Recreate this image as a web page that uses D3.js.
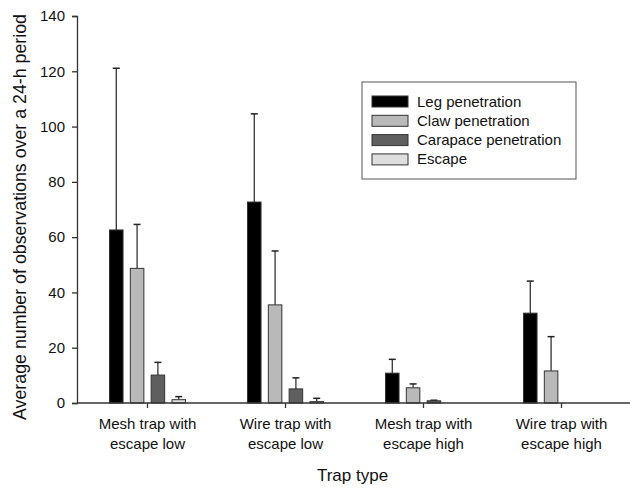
<!DOCTYPE html>
<html>
<head>
<meta charset="utf-8">
<script src="https://cdn.jsdelivr.net/npm/d3@7"></script>
<style>
  body { margin: 0; background: #fff; }
  svg { display: block; font-family: "Liberation Sans", Arial, sans-serif; }
</style>
</head>
<body>
<svg id="chart" width="630" height="488"></svg>
<script>
var categories = [
    ['Mesh trap with', 'escape low'],
    ['Wire trap with', 'escape low'],
    ['Mesh trap with', 'escape high'],
    ['Wire trap with', 'escape high']
];
var seriesNames = ['Leg penetration', 'Claw penetration', 'Carapace penetration', 'Escape'];
var seriesColors = ['#000000', '#b9b9b9', '#5f5f5f', '#dedede'];

// means and upper error (mean + SE) per series, one entry per category
var legMean = [62.6, 72.7, 10.8, 32.5];
var legErr = [121.1, 104.6, 15.8, 44.1];
var clawMean = [48.7, 35.5, 5.5, 11.6];
var clawErr = [64.6, 55.0, 6.9, 24.0];
var carapaceMean = [10.1, 5.1, 0.8, 0];
var carapaceErr = [14.7, 9.1, 1.0, 0];
var escapeMean = [1.2, 0.5, 0, 0];
var escapeErr = [2.3, 1.7, 0, 0];
var yTicks = [0, 20, 40, 60, 80, 100, 120, 140];

var means = [legMean, clawMean, carapaceMean, escapeMean];
var errs = [legErr, clawErr, carapaceErr, escapeErr];

var svg = d3.select('#chart');
var margin = {left: 77, right: 0, top: 16, bottom: 85};
var width = 630 - margin.left - margin.right;
var height = 488 - margin.top - margin.bottom;

var g = svg.append('g')
    .attr('transform', 'translate(' + margin.left + ',' + margin.top + ')');

var x = d3.scaleBand()
    .domain(d3.range(categories.length))
    .range([1.5, width + 0.5]);

var groupWidth = 76;
var xInner = d3.scaleBand()
    .domain(d3.range(seriesNames.length))
    .range([0, groupWidth])
    .paddingInner(0.35);

var y = d3.scaleLinear()
    .domain([0, 140])
    .range([height, 0]);

var axisColor = '#333';

// bars
var rows = [];
categories.forEach(function(c, ci){
    seriesNames.forEach(function(s, si){
        rows.push({ci: ci, si: si, v: means[si][ci], e: errs[si][ci]});
    });
});

var barX = function(d){
    return x(d.ci) + x.bandwidth() / 2 - groupWidth / 2 + xInner(d.si);
};

var bars = g.selectAll('.bar').data(rows.filter(function(d){ return d.v > 0; }))
    .enter().append('g').attr('class', 'bar');

bars.append('line')
    .attr('x1', function(d){ return barX(d) + xInner.bandwidth() / 2; })
    .attr('x2', function(d){ return barX(d) + xInner.bandwidth() / 2; })
    .attr('y1', function(d){ return y(d.v); })
    .attr('y2', function(d){ return y(d.e); })
    .attr('stroke', '#222').attr('stroke-width', 1.2);

bars.append('line')
    .attr('x1', function(d){ return barX(d) + xInner.bandwidth() / 2 - 3.5; })
    .attr('x2', function(d){ return barX(d) + xInner.bandwidth() / 2 + 3.5; })
    .attr('y1', function(d){ return y(d.e); })
    .attr('y2', function(d){ return y(d.e); })
    .attr('stroke', '#222').attr('stroke-width', 1.5);

bars.append('rect')
    .attr('x', function(d){ return barX(d); })
    .attr('y', function(d){ return y(d.v); })
    .attr('width', xInner.bandwidth())
    .attr('height', function(d){ return height - y(d.v); })
    .attr('fill', function(d){ return seriesColors[d.si]; })
    .attr('stroke', '#333').attr('stroke-width', 1);

// y axis
var yAxis = g.append('g')
    .call(d3.axisLeft(y).tickValues(yTicks).tickSize(5).tickPadding(7));
yAxis.selectAll('text').attr('font-size', 15).attr('fill', '#111')
    .attr('font-family', '"Liberation Sans", Arial, sans-serif');
yAxis.selectAll('line, path').attr('stroke', axisColor).attr('stroke-width', 1.3);

// x axis
var xAxis = g.append('g')
    .attr('transform', 'translate(0,' + height + ')')
    .call(d3.axisBottom(x).tickSize(5).tickSizeOuter(0).tickFormat(''));
xAxis.select('.domain').attr('d', 'M0,0H' + width);
xAxis.selectAll('line, path').attr('stroke', axisColor).attr('stroke-width', 1.3);

xAxis.selectAll('.tick').each(function(ci){
    var t = d3.select(this).append('text')
        .attr('fill', '#111')
        .attr('font-size', 15)
        .attr('text-anchor', 'middle')
        .attr('font-family', '"Liberation Sans", Arial, sans-serif');
    categories[ci].forEach(function(line, li){
        t.append('tspan').attr('x', 0).attr('y', 26 + li * 20).text(line);
    });
});

// axis titles
g.append('text')
    .attr('x', width / 2 - 1)
    .attr('y', height + 78)
    .attr('text-anchor', 'middle')
    .attr('font-size', 17)
    .attr('fill', '#111')
    .text('Trap type');

g.append('text')
    .attr('transform', 'translate(' + (-51) + ',' + 201 + ') rotate(-90)')
    .attr('text-anchor', 'middle')
    .attr('font-size', 17.8)
    .attr('fill', '#111')
    .text('Average number of observations over a 24-h period');

// legend
var legend = svg.append('g').attr('transform', 'translate(362,82)');
legend.append('rect')
    .attr('width', 214).attr('height', 97)
    .attr('fill', '#fff').attr('stroke', '#555').attr('stroke-width', 1);

var item = legend.selectAll('.item').data(seriesNames)
    .enter().append('g')
    .attr('transform', function(d, i){ return 'translate(10,' + (14 + i * 19.3) + ')'; });

item.append('rect')
    .attr('width', 36).attr('height', 11)
    .attr('fill', function(d, i){ return seriesColors[i]; })
    .attr('stroke', '#333').attr('stroke-width', 1);

item.append('text')
    .attr('x', 45).attr('y', 10.5)
    .attr('font-size', 15)
    .attr('fill', '#111')
    .text(function(d){ return d; });
</script>
</body>
</html>
